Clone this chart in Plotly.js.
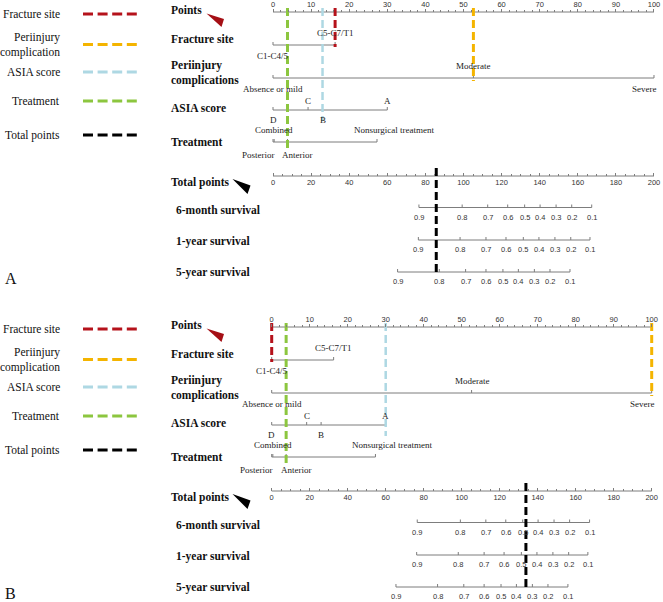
<!DOCTYPE html>
<html><head><meta charset="utf-8">
<script src="https://cdn.plot.ly/plotly-3.0.1.min.js"></script>
<style>html,body{margin:0;padding:0;background:#fff}</style>
</head><body><div id="chart" style="width:663px;height:602px"></div>
<script>
// ---------------- data ----------------
const fractureLevels = ['C1-C4/5', 'C5-C7/T1'];
const fracturePoints = [0, 16.3];
const periLevels = ['Absence or mild', 'Moderate', 'Severe'];
const periPoints = [0, 52.6, 100];
const asiaLevels = ['D', 'C', 'B', 'A'];
const asiaPoints = [0, 9.2, 13, 30];
const treatLevels = ['Posterior', 'Combined', 'Anterior', 'Nonsurgical treatment'];
const treatPoints = [0, 0.3, 3.8, 27.3];

const pointsRange = [0, 100];
const totalRange = [0, 200];

const survivalProbs = [0.9, 0.8, 0.7, 0.6, 0.5, 0.4, 0.3, 0.2, 0.1];
const month6Total = [76.6, 99.3, 112.7, 123.2, 132.1, 140.2, 148.6, 156.8, 167.3];
const year1Total  = [76.3, 98.2, 111.8, 122.3, 131.4, 139.6, 148.0, 156.3, 166.4];
const year5Total  = [65.4, 87.3, 101.1, 111.8, 120.7, 128.8, 137.2, 145.4, 155.9];

// selected patient profiles (panel A, panel B)
const selectedA = ['C5-C7/T1', 'Moderate', 'B', 'Anterior'];
const selectedB = ['C1-C4/5', 'Severe', 'A', 'Anterior'];

// ---------------- styling / layout ----------------
const W = 663, H = 602;
const SERIF = 'Liberation Serif, Times New Roman, serif';
const SANS = 'Liberation Sans, Arial, sans-serif';
const GRAY = '#7d7d7d';
const COLORS = {fracture:'#b5121b', peri:'#f4b400', asia:'#aed8e3', treat:'#8cc63f', total:'#000000'};

const variables = [
  {key:'fracture', title:'Fracture site', legend:'Fracture site', levels:fractureLevels, pts:fracturePoints,
   sides:['below','above'], shifts:[0,0], anchors:['center','center'], rowY:45, labelY:39, up:12, down:11, endPad:2},
  {key:'peri', title:'Periinjury<br>complications', legend:'Periinjury<br>complication', levels:periLevels, pts:periPoints,
   sides:['below','above','below'], shifts:[0,0,4], anchors:['center','center','right'], rowY:78, labelY:73, up:12, down:11, endPad:3},
  {key:'asia', title:'ASIA score', legend:'ASIA score', levels:asiaLevels, pts:asiaPoints,
   sides:['below','above','below','above'], shifts:[0,0,0,0], anchors:['center','center','center','center'], rowY:110, labelY:108, up:9, down:10, endPad:11},
  {key:'treat', title:'Treatment', legend:'Treatment', levels:treatLevels, pts:treatPoints,
   sides:['below','above','below','above'], shifts:[-15,0,10,17], anchors:['center','center','center','center'], rowY:142, labelY:142, up:12, down:13, endPad:8}
];
const survRows = [
  {title:'6-month survival', tot:month6Total, rowY:207.5, labelY:210},
  {title:'1-year survival', tot:year1Total, rowY:240, labelY:241},
  {title:'5-year survival', tot:year5Total, rowY:272, labelY:272}
];
const legendY = [14, 44.5, 72, 101, 135];

const panels = [
  {letter:'A', off:0, px:'x', tx:'x3', p0:273, p100:654, sel:selectedA},
  {letter:'B', off:315, px:'x2', tx:'x4', p0:271.7, p100:651.7, sel:selectedB}
];
const POINTS_Y = 12, TOTAL_Y = 176;

const traces = [], annotations = [], shapes = [];
const layout = {
  width:W, height:H, margin:{l:0,r:0,t:0,b:0}, paper_bgcolor:'#fff', plot_bgcolor:'rgba(0,0,0,0)',
  showlegend:false, hovermode:false,
  yaxis:{domain:[0,1], range:[H,0], visible:false, fixedrange:true, anchor:'x'}
};

function lineTrace(xa, xs, ys, color, width, dash){
  return {type:'scatter', mode:'lines', xaxis:xa, yaxis:'y', x:xs, y:ys,
          line:{color:color, width:width, dash:dash||'solid'}, hoverinfo:'skip', showlegend:false, cliponaxis:false};
}
function ann(text, xref, x, y, font, extra){
  return Object.assign({text:text, xref:xref, yref:'y', x:x, y:y, showarrow:false, font:font,
                        xanchor:'center', yanchor:'middle', borderpad:0}, extra||{});
}
function axisDomain(p0, p100, pad){
  const s = (p100 - p0) / 100;
  return [(p0 - pad*s)/W, (p100 + pad*s)/W];
}
function triPath(pts){
  return 'M' + pts.map(p => (p[0]/W) + ',' + p[1]).join(' L') + ' Z';
}

const rowFont = {family:SERIF, size:11.5, color:'#111'};
const catFont = {family:SERIF, size:9, color:'#222'};
const tickFont = {family:SANS, size:7.5, color:'#333'};
const legFont = {family:SERIF, size:11.5, color:'#111'};

panels.forEach((P, pi) => {
  const o = P.off;
  const dom = axisDomain(P.p0, P.p100, 1.5);
  const axNum = P.px === 'x' ? '' : P.px.slice(1);
  const taxNum = P.tx.slice(1);
  layout['xaxis' + axNum] = {
    domain:dom, range:[pointsRange[0]-1.5, pointsRange[1]+1.5], anchor:'free', position:1-(POINTS_Y+o)/H,
    side:'top', showline:false, showgrid:false, zeroline:false, fixedrange:true,
    tickmode:'linear', tick0:0, dtick:10, ticks:'outside', ticklen:3, tickwidth:1, tickcolor:GRAY,
    tickfont:tickFont, ticklabelstandoff:-1,
    minor:{tick0:0, dtick:2, ticks:'outside', ticklen:2, tickcolor:GRAY, showgrid:false}
  };
  layout['xaxis' + taxNum] = {
    domain:dom, range:[totalRange[0]-3, totalRange[1]+3], anchor:'free', position:1-(TOTAL_Y+o)/H,
    side:'bottom', showline:false, showgrid:false, zeroline:false, fixedrange:true,
    tickmode:'linear', tick0:0, dtick:20, ticks:'inside', ticklen:3, tickwidth:1, tickcolor:GRAY,
    tickfont:tickFont,
    minor:{tick0:0, dtick:5, ticks:'inside', ticklen:2, tickcolor:GRAY, showgrid:false}
  };

  // axis baselines
  traces.push(lineTrace(P.px, pointsRange, [POINTS_Y+o, POINTS_Y+o], GRAY, 1));
  traces.push(lineTrace(P.tx, totalRange, [TOTAL_Y+o, TOTAL_Y+o], GRAY, 1));

  // row titles
  annotations.push(ann('<b>Points</b>', 'paper', 170/W, 10+o, rowFont, {xanchor:'left'}));
  annotations.push(ann('<b>Total points</b>', 'paper', 170/W, 182+o, rowFont, {xanchor:'left'}));

  // variable scales
  variables.forEach(v => {
    const y = v.rowY + o;
    const lo = Math.min(...v.pts), hi = Math.max(...v.pts);
    traces.push(lineTrace(P.px, [lo, hi], [y, y], GRAY, 1));
    const tx = [], ty = [];
    v.pts.forEach(p => { tx.push(p, p, null); ty.push(y, y-3, null); });
    traces.push(lineTrace(P.px, tx, ty, GRAY, 1));
    v.levels.forEach((lev, i) => {
      const ly = v.sides[i] === 'above' ? y - v.up : y + v.down;
      annotations.push(ann(lev, P.px, v.pts[i], ly, catFont, {xshift:v.shifts[i], xanchor:v.anchors[i]}));
    });
    annotations.push(ann('<b>' + v.title + '</b>', 'paper', 170/W, v.labelY + o, rowFont, {xanchor:'left', align:'left'}));
  });

  // survival scales
  survRows.forEach(r => {
    const y = r.rowY + o;
    const lo = Math.min(...r.tot), hi = Math.max(...r.tot);
    traces.push(lineTrace(P.tx, [lo, hi], [y, y], GRAY, 1));
    const tx = [], ty = [];
    r.tot.forEach(t => { tx.push(t, t, null); ty.push(y, y-3, null); });
    traces.push(lineTrace(P.tx, tx, ty, GRAY, 1));
    r.tot.forEach((t, i) => {
      annotations.push(ann(survivalProbs[i].toFixed(1), P.tx, t, y + 9.5, tickFont));
    });
    annotations.push(ann('<b>' + r.title + '</b>', 'paper', 175/W, r.labelY + o, rowFont, {xanchor:'left'}));
  });

  // selected-value dashed guides
  let total = 0;
  variables.forEach((v, i) => {
    const idx = v.levels.indexOf(P.sel[i]);
    const val = v.pts[idx];
    total += val;
    traces.push(lineTrace(P.px, [val, val], [POINTS_Y + o - 4, v.rowY + o + v.endPad], COLORS[v.key], v.key==='asia'?2.5:3, '8px,4px'));
  });
  traces.push(lineTrace(P.tx, [total, total], [TOTAL_Y + o - 8, survRows[2].rowY + o + 3], COLORS.total, 3, '8px,4px'));

  // pointer triangles
  shapes.push({type:'path', xref:'paper', yref:'y', path:triPath([[206.5,13.5+o],[224,19+o],[221.5,27+o]]),
               fillcolor:'#a50f15', line:{width:0}});
  shapes.push({type:'path', xref:'paper', yref:'y', path:triPath([[232.5,179+o],[250.5,185.5+o],[247.5,194+o]]),
               fillcolor:'#000', line:{width:0}});

  // left-side key
  const keys = variables.map(v => ({text:v.legend, color:COLORS[v.key]})).concat([{text:'Total points', color:COLORS.total}]);
  keys.forEach((k, i) => {
    const y = legendY[i] + o;
    annotations.push(ann(k.text, 'paper', 61/W, y, legFont, {xanchor:'right', align:'right'}));
    shapes.push({type:'line', xref:'paper', yref:'y', x0:83/W, x1:137/W, y0:y, y1:y,
                 line:{color:k.color, width:3, dash:'10px,4.6px'}});
  });

  // panel letter
  annotations.push(ann(P.letter, 'paper', 4/W, 278 + o, {family:SERIF, size:16, color:'#111'}, {xanchor:'left'}));
});

layout.annotations = annotations;
layout.shapes = shapes;
Plotly.newPlot('chart', traces, layout, {staticPlot:true, displayModeBar:false});
</script>
</body></html>
